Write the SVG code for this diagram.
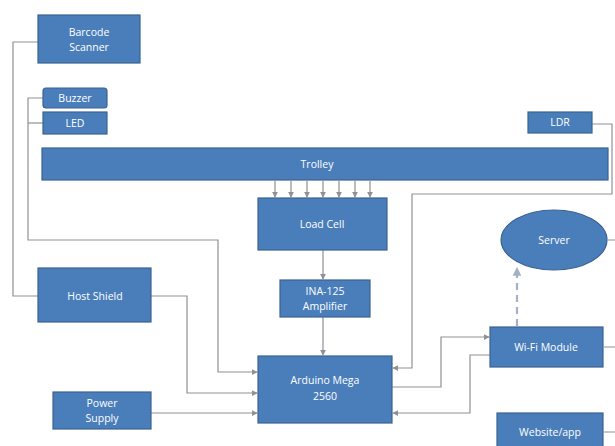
<svg xmlns="http://www.w3.org/2000/svg" width="615" height="446" viewBox="0 0 615 446">
<defs>
<style>
.box{fill:#4A7EBB;stroke:#3A6391;stroke-width:1.2}
.t{fill:#ffffff;font-family:"Open Sans","Liberation Sans",sans-serif;font-size:10.5px;text-anchor:middle}
.ln{fill:none;stroke:#8E9196;stroke-width:1.2}
.dash{fill:none;stroke:#A3B1C4;stroke-width:2.2;stroke-dasharray:7 5}
</style>
<marker id="ah" viewBox="0 0 8 8" refX="7" refY="4" markerWidth="5" markerHeight="5" orient="auto">
<path d="M0,0 L8,4 L0,8 z" fill="#8E9196"/>
</marker>
<marker id="ahd" viewBox="0 0 8 8" refX="7" refY="4" markerWidth="4" markerHeight="4" orient="auto">
<path d="M0,0 L8,4 L0,8 z" fill="#A3B1C4"/>
</marker>
</defs>
<rect width="615" height="446" fill="#ffffff"/>
<g id="connectors">
<path class="ln" d="M40,42 H13 V296 H38"/>
<path class="ln" d="M43,98 H28 V240 H218 V372 H257" marker-end="url(#ah)"/>
<path class="ln" d="M43,123 H28"/>
<path class="ln" d="M151,296 H187 V393 H257" marker-end="url(#ah)"/>
<path class="ln" d="M151,413 H257" marker-end="url(#ah)"/>
<path class="ln" d="M592,124 H612 V194 H412 V368 H393" marker-end="url(#ah)"/>
<path class="ln" d="M392,387 H441 V337 H489" marker-end="url(#ah)"/>
<path class="ln" d="M490,355 H470 V413 H393" marker-end="url(#ah)"/>
<path class="ln" d="M323,250 V279" marker-end="url(#ah)"/>
<path class="ln" d="M323,317 V355" marker-end="url(#ah)"/>
<path class="ln" d="M275,181 V197" marker-end="url(#ah)"/>
<path class="ln" d="M291,181 V197" marker-end="url(#ah)"/>
<path class="ln" d="M307,181 V197" marker-end="url(#ah)"/>
<path class="ln" d="M323,181 V197" marker-end="url(#ah)"/>
<path class="ln" d="M339,181 V197" marker-end="url(#ah)"/>
<path class="ln" d="M355,181 V197" marker-end="url(#ah)"/>
<path class="ln" d="M370,181 V197" marker-end="url(#ah)"/>
<path class="dash" d="M517,326 V268" marker-end="url(#ahd)"/>
<path class="ln" d="M608,240 H615 M604,347 H615 M604,432 H615"/>
</g>
<g id="barcode"><rect class="box" x="38" y="15" width="102" height="48"/><text class="t" x="89" y="36">Barcode</text><text class="t" x="89" y="51">Scanner</text></g>
<g id="buzzer"><rect class="box" x="43" y="88" width="64" height="20" rx="3"/><text class="t" x="75" y="102">Buzzer</text></g>
<g id="led"><rect class="box" x="43" y="112" width="64" height="22"/><text class="t" x="75" y="127">LED</text></g>
<g id="ldr"><rect class="box" x="528" y="112" width="64" height="21"/><text class="t" x="560" y="126">LDR</text></g>
<g id="trolley"><rect class="box" x="42" y="148" width="566" height="32"/><text class="t" x="317" y="168">Trolley</text></g>
<g id="loadcell"><rect class="box" x="258" y="198" width="129" height="52"/><text class="t" x="322" y="228">Load Cell</text></g>
<g id="server"><ellipse class="box" cx="554" cy="240" rx="53" ry="30"/><text class="t" x="554" y="244">Server</text></g>
<g id="hostshield"><rect class="box" x="38" y="268" width="113" height="54"/><text class="t" x="95" y="300">Host Shield</text></g>
<g id="ina"><rect class="box" x="280" y="280" width="90" height="37"/><text class="t" x="325" y="295">INA-125</text><text class="t" x="325" y="310">Amplifier</text></g>
<g id="wifi"><rect class="box" x="490" y="327" width="113" height="40"/><text class="t" x="546" y="351">Wi-Fi Module</text></g>
<g id="arduino"><rect class="box" x="258" y="356" width="134" height="67"/><text class="t" x="325" y="384">Arduino Mega</text><text class="t" x="325" y="400">2560</text></g>
<g id="power"><rect class="box" x="53" y="392" width="98" height="37"/><text class="t" x="102" y="407">Power</text><text class="t" x="102" y="422">Supply</text></g>
<g id="website"><rect class="box" x="497" y="413" width="106" height="40"/><text class="t" x="550" y="436">Website/app</text></g>
</svg>
